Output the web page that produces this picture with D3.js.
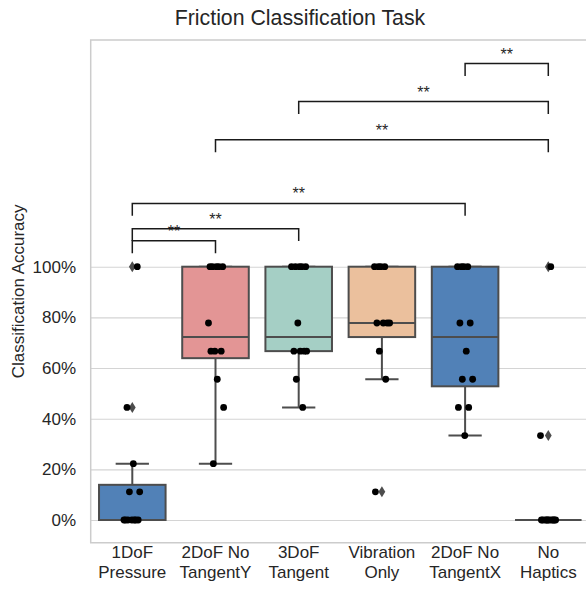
<!DOCTYPE html>
<html>
<head>
<meta charset="utf-8">
<script src="https://cdn.jsdelivr.net/npm/d3@7"></script>
<style>
  body { margin: 0; background: #fff; }
  svg { display: block; }
  text { font-family: "Liberation Sans", Arial, sans-serif; fill: #262626; }
</style>
</head>
<body>
<svg id="chart" width="586" height="594"></svg>
<script>
// Conditions, in plotting order (label lines split on "\n")
const categories = [
  "1DoF\nPressure",
  "2DoF No\nTangentY",
  "3DoF\nTangent",
  "Vibration\nOnly",
  "2DoF No\nTangentX",
  "No\nHaptics"
];

// Per-participant classification accuracy for each condition
const pressure1DoF   = [0, 0, 0, 0, 0, 0, 0, 0.1111, 0.1111, 0.2222, 0.4444, 1.0];
const noTangentY2DoF = [0.2222, 0.4444, 0.5556, 0.6667, 0.6667, 0.6667, 0.7778, 1.0, 1.0, 1.0, 1.0, 1.0];
const tangent3DoF    = [0.4444, 0.5556, 0.6667, 0.6667, 0.6667, 0.6667, 0.7778, 1.0, 1.0, 1.0, 1.0, 1.0];
const vibrationOnly  = [0.1111, 0.5556, 0.6667, 0.7778, 0.7778, 0.7778, 0.7778, 1.0, 1.0, 1.0, 1.0];
const noTangentX2DoF = [0.3333, 0.4444, 0.4444, 0.5556, 0.5556, 0.6667, 0.7778, 0.7778, 1.0, 1.0, 1.0, 1.0];
const noHaptics      = [0, 0, 0, 0, 0, 0, 0, 0, 0, 0, 0.3333, 1.0];

const seriesValues = [pressure1DoF, noTangentY2DoF, tangent3DoF, vibrationOnly, noTangentX2DoF, noHaptics];
const boxColors = ["#5181b7", "#e39595", "#a5cfc5", "#ebc09d", "#5181b7", "#5181b7"];

// Y axis ticks
const yTicks = [0, 0.2, 0.4, 0.6, 0.8, 1.0];

// Significance brackets: condition pair, bracket base level (accuracy units), label
const sigPairs  = [[0, 1], [0, 2], [0, 4], [1, 5], [2, 5], [4, 5]];
const sigLevels = [1.053, 1.101, 1.201, 1.452, 1.603, 1.753];
const sigLabels = ["**", "**", "**", "**", "**", "**"];

const title = "Friction Classification Task";
const yLabel = "Classification Accuracy";

// ---- layout ----
const plot = { left: 90.7, right: 589.9, top: 40, bottom: 542.7 };
const svg = d3.select("#chart");
svg.append("rect").attr("width", 586).attr("height", 594).attr("fill", "#fff");

const x = d3.scaleBand()
  .domain(d3.range(categories.length))
  .range([plot.left, plot.right])
  .padding(0);
const bw = x.bandwidth();
const cx = i => x(i) + bw / 2;

const y = d3.scaleLinear().domain([-0.0896, 1.895]).range([plot.bottom, plot.top]);

const lineGray = "#4d4d4d";

// grid + y tick labels
const yAxis = d3.axisLeft(y)
  .tickValues(yTicks)
  .tickFormat(d3.format(".0%"))
  .tickSizeInner(-(plot.right - plot.left))
  .tickSizeOuter(0)
  .tickPadding(14.7);

const gy = svg.append("g")
  .attr("transform", `translate(${plot.left},0)`)
  .call(yAxis);
gy.select(".domain").remove();
gy.selectAll(".tick line").attr("stroke", "#d4d4d4").attr("stroke-width", 1.1);
gy.selectAll(".tick text")
  .attr("font-size", 17)
  .attr("font-family", "Liberation Sans, Arial, sans-serif")
  .attr("fill", "#262626");

// axes frame (light spines)
svg.append("path")
  .attr("d", `M${plot.right},${plot.top}H${plot.left}V${plot.bottom}H${plot.right}`)
  .attr("fill", "none")
  .attr("stroke", "#cccccc")
  .attr("stroke-width", 1.5);

// ---- box plots ----
const boxW = bw * 0.8;
const gBoxes = svg.append("g");
seriesValues.forEach((vals, i) => {
  const s = vals.slice().sort(d3.ascending);
  const q1 = d3.quantileSorted(s, 0.25);
  const med = d3.quantileSorted(s, 0.5);
  const q3 = d3.quantileSorted(s, 0.75);
  const iqr = q3 - q1;
  const lo = d3.min(s.filter(v => v >= q1 - 1.5 * iqr));
  const hi = d3.max(s.filter(v => v <= q3 + 1.5 * iqr));
  const fliers = s.filter(v => v < lo || v > hi);
  const c = cx(i);
  const g = gBoxes.append("g");

  // whiskers
  g.append("line").attr("x1", c).attr("x2", c).attr("y1", y(q1)).attr("y2", y(lo))
    .attr("stroke", lineGray).attr("stroke-width", 2);
  g.append("line").attr("x1", c).attr("x2", c).attr("y1", y(q3)).attr("y2", y(hi))
    .attr("stroke", lineGray).attr("stroke-width", 2);
  // caps
  [lo, hi].forEach(v => {
    g.append("line").attr("x1", c - boxW / 4).attr("x2", c + boxW / 4)
      .attr("y1", y(v)).attr("y2", y(v))
      .attr("stroke", lineGray).attr("stroke-width", 2);
  });
  // box
  g.append("rect")
    .attr("x", c - boxW / 2).attr("width", boxW)
    .attr("y", y(q3)).attr("height", Math.max(0, y(q1) - y(q3)))
    .attr("fill", boxColors[i])
    .attr("stroke", lineGray).attr("stroke-width", 2);
  // median
  g.append("line").attr("x1", c - boxW / 2).attr("x2", c + boxW / 2)
    .attr("y1", y(med)).attr("y2", y(med))
    .attr("stroke", lineGray).attr("stroke-width", 2);
  // outliers as thin diamonds
  fliers.forEach(v => {
    const yy = y(v);
    g.append("path")
      .attr("d", `M${c},${yy - 5.5}L${c + 3.4},${yy}L${c},${yy + 5.5}L${c - 3.4},${yy}Z`)
      .attr("fill", lineGray);
  });
});

// ---- individual participants (strip with deterministic spread) ----
const jitter = bw * 0.1;
const gDots = svg.append("g");
seriesValues.forEach((vals, i) => {
  vals.forEach((v, j) => {
    const off = (((j * 0.618034 + i * 0.37) % 1) - 0.5) * 2 * jitter;
    gDots.append("circle")
      .attr("cx", cx(i) + off)
      .attr("cy", y(v))
      .attr("r", 3.4)
      .attr("fill", "#000");
  });
});

// ---- significance brackets ----
const bracketH = 0.049;
const gSig = svg.append("g");
sigPairs.forEach(([a, b], k) => {
  const base = sigLevels[k];
  const x1 = cx(a), x2 = cx(b);
  gSig.append("path")
    .attr("d", `M${x1},${y(base)}V${y(base + bracketH)}H${x2}V${y(base)}`)
    .attr("fill", "none")
    .attr("stroke", "#1a1a1a")
    .attr("stroke-width", 1.5);
  gSig.append("text")
    .attr("x", (x1 + x2) / 2)
    .attr("y", y(base + bracketH) - 4)
    .attr("text-anchor", "middle")
    .attr("font-size", 16)
    .text(sigLabels[k]);
});

// ---- category labels ----
const gx = svg.append("g");
categories.forEach((name, i) => {
  const t = gx.append("text")
    .attr("x", cx(i))
    .attr("text-anchor", "middle")
    .attr("font-size", 17);
  name.split("\n").forEach((line, li) => {
    t.append("tspan").attr("x", cx(i)).attr("y", 558 + li * 19.5).text(line);
  });
});

// ---- y label & title ----
svg.append("text")
  .attr("transform", `translate(23.5,${(plot.top + plot.bottom) / 2}) rotate(-90)`)
  .attr("text-anchor", "middle")
  .attr("font-size", 17)
  .text(yLabel);

svg.append("text")
  .attr("x", 300)
  .attr("y", 25)
  .attr("text-anchor", "middle")
  .attr("font-size", 21.3)
  .text(title);
</script>
</body>
</html>
